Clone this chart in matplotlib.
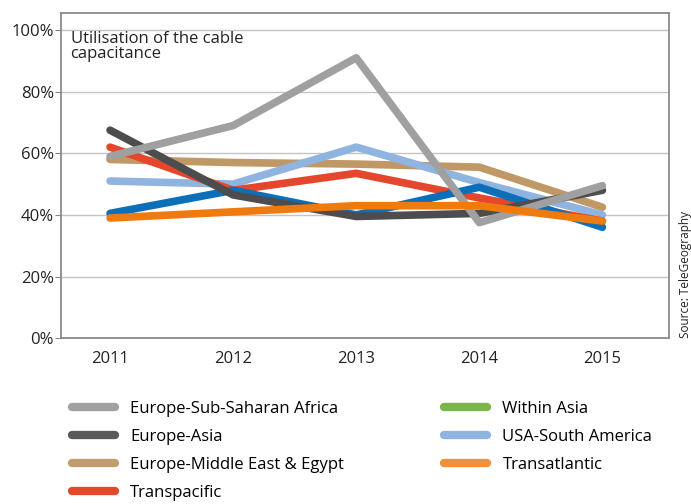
"""Utilisation of the cable capacitance, 2011-2015 (TeleGeography)."""
import matplotlib
matplotlib.use("Agg")
import matplotlib.pyplot as plt
from matplotlib.lines import Line2D

plt.rcParams["font.family"] = ["Open Sans", "DejaVu Sans"]

# Data
years = [2011, 2012, 2013, 2014, 2015]
sub_saharan = [59, 69, 91, 37.5, 49.5]
europe_asia = [67.5, 46.5, 39.5, 40.5, 48]
middle_east = [58, 57, 56.5, 55.5, 42.5]
transpacific = [62, 48, 53.5, 45.5, 38]
within_asia = [40.5, 48, 40, 49, 36]
usa_south_america = [51, 50, 62, 50.5, 40]
transatlantic = [39, 41, 43, 43, 38]

labels = ["Europe-Sub-Saharan Africa", "Europe-Asia", "Europe-Middle East & Egypt",
          "Transpacific", "Within Asia", "USA-South America", "Transatlantic"]
yticks = [0, 20, 40, 60, 80, 100]

fig = plt.figure(figsize=(6.91, 5.04), dpi=100)
ax = fig.add_axes([0.088, 0.329, 0.880, 0.645])

lw = 5.5
# drawing order: back to front
ax.plot(years, middle_east, color="#bf9865", lw=lw, solid_capstyle="round")
ax.plot(years, usa_south_america, color="#8fb4e0", lw=lw, solid_capstyle="round")
ax.plot(years, transpacific, color="#e4472c", lw=lw, solid_capstyle="round")
ax.plot(years, within_asia, color="#0b6fba", lw=lw, solid_capstyle="round")
ax.plot(years, europe_asia, color="#4d4d4f", lw=lw, solid_capstyle="round")
ax.plot(years, sub_saharan, color="#a0a0a0", lw=lw, solid_capstyle="round")
ax.plot(years, transatlantic, color="#ef7a0e", lw=lw, solid_capstyle="round")

ax.set_xlim(2010.6, 2015.54)
ax.set_ylim(0, 105.5)
ax.set_xticks(years)
ax.set_xticklabels([str(y) for y in years], fontsize=12, color="#222222")
ax.set_yticks(yticks)
ax.set_yticklabels([f"{v}%" for v in yticks], fontsize=12, color="#222222")
ax.tick_params(axis="x", length=0, pad=9)
ax.tick_params(axis="y", length=4, width=0.8, color="#888888", pad=1)
ax.grid(axis="y", color="#c4c4c4", lw=1)
ax.set_axisbelow(True)
for s in ax.spines.values():
    s.set_color("#8a8a8a")
    s.set_linewidth(1.3)

ax.text(0.016, 0.945, "Utilisation of the cable\ncapacitance", transform=ax.transAxes,
        fontsize=12, va="top", ha="left", linespacing=0.9, color="#222222")

fig.text(0.992, 0.329, "Source: TeleGeography", rotation=90, ha="center", va="bottom",
         fontsize=8.5, color="#222222")

# Legend (the reference shows Within Asia as green in the key)
handle_colors = ["#a0a0a0", "#5a5a5c", "#c19d6e", "#e4472c", "#7ab648", "#8fb4e0", "#f28f3b"]
handles = [Line2D([0], [0], color=c, lw=6, solid_capstyle="round") for c in handle_colors]
fig.legend(handles, labels, loc="upper left", bbox_to_anchor=(0.104, 0.205), ncol=2,
           frameon=False, fontsize=12, handlelength=2.6, handletextpad=0.9,
           columnspacing=6.0, labelspacing=0.72, borderaxespad=0, borderpad=0)

plt.savefig("out.png", dpi=100)
